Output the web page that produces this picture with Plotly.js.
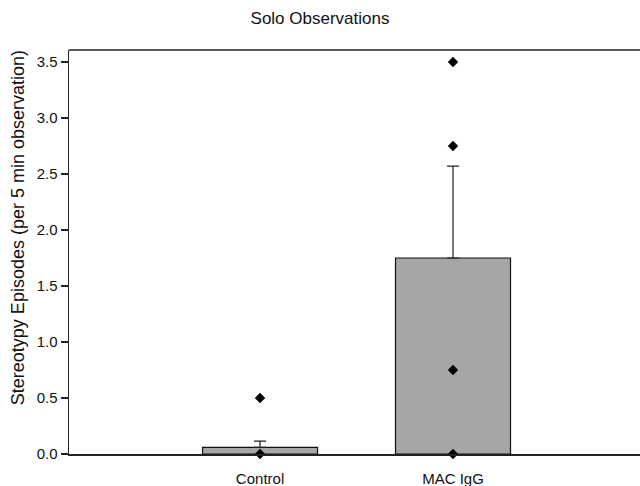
<!DOCTYPE html>
<html>
<head>
<meta charset="utf-8">
<script src="https://cdn.plot.ly/plotly-3.0.1.min.js"></script>
<style>html,body{margin:0;padding:0;background:#fff;}#chart{width:640px;height:486px;}</style>
</head>
<body>
<div id="chart"></div>
<script>
var categories = ['Control', 'MAC IgG'];
var means = [0.06, 1.75];
var sems = [0.055, 0.82];
var controlPoints = [0.5, 0.0];
var macPoints = [3.5, 2.75, 0.75, 0.0];
var yTicks = [0, 0.5, 1.0, 1.5, 2.0, 2.5, 3.0, 3.5];
var yTitle = 'Stereotypy Episodes (per 5 min observation)';

var font = 'Liberation Sans, Arial, sans-serif';

var bars = {
  type: 'bar',
  x: categories,
  y: means,
  width: 0.596,
  marker: {color: '#a6a6a6', line: {color: '#111', width: 1.2}},
  error_y: {type: 'data', array: sems, symmetric: false, arrayminus: [0, 0], color: '#222', thickness: 1.2, width: 6},
  showlegend: false,
  hoverinfo: 'skip'
};

function pts(cat, vals) {
  return {
    type: 'scatter',
    mode: 'markers',
    x: vals.map(function(){ return cat; }),
    y: vals,
    marker: {symbol: 'diamond', size: 8, color: '#000'},
    showlegend: false,
    cliponaxis: false
  };
}

var layout = {
  width: 640,
  height: 486,
  margin: {l: 69, r: 0, t: 50, b: 32},
  paper_bgcolor: '#fff',
  plot_bgcolor: '#fff',
  font: {family: font, color: '#000'},
  title: {text: 'Solo Observations', font: {family: font, size: 17, color: '#111'}, x: 0.5, xanchor: 'center', y: 0.963, yanchor: 'middle'},
  xaxis: {
    type: 'category',
    range: [-0.99, 1.969],
    showline: true,
    mirror: false,
    linecolor: '#222',
    linewidth: 1.5,
    showgrid: false,
    zeroline: false,
    ticks: '',
    ticklabelstandoff: 10,
    tickfont: {family: font, size: 15, color: '#111'},
    fixedrange: true
  },
  yaxis: {
    range: [0, 3.607],
    tickvals: yTicks,
    ticktext: yTicks.map(function(v){ return v.toFixed(1); }),
    showline: true,
    linecolor: '#222',
    linewidth: 1.5,
    showgrid: false,
    zeroline: false,
    ticks: 'outside',
    ticklen: 7,
    tickwidth: 1.2,
    tickcolor: '#222',
    tickfont: {family: font, size: 15, color: '#111'},
    fixedrange: true
  },
  shapes: [{type: 'line', xref: 'paper', yref: 'paper', x0: 0, x1: 1.01, y0: 1, y1: 1, line: {color: '#222', width: 1.5}}],
  annotations: [{
    text: yTitle, xref: 'paper', yref: 'paper', x: -0.0893, y: 0.559,
    xanchor: 'center', yanchor: 'middle', textangle: -90, showarrow: false,
    font: {family: font, size: 18, color: '#111'}
  }]
};

Plotly.newPlot('chart', [bars, pts('Control', controlPoints), pts('MAC IgG', macPoints)], layout, {displayModeBar: false, staticPlot: true});
</script>
</body>
</html>
